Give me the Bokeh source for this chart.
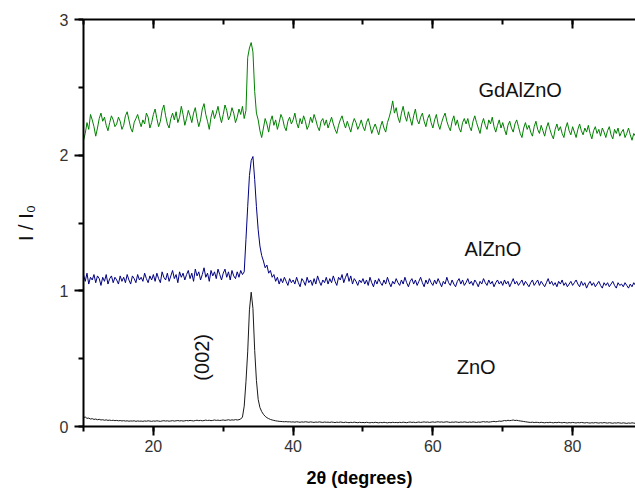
from bokeh.plotting import figure
from bokeh.models import LinearAxis, SingleIntervalTicker, Label, Range1d
from bokeh.embed import file_html
from bokeh.resources import INLINE

# 2-theta sampling: start 10 deg, step 0.25 deg
theta_start = 10.0
theta_step = 0.25

gdalzno = [
    2.11, 2.16, 2.24, 2.19, 2.30, 2.26, 2.21, 2.14, 2.20, 2.27, 2.31, 2.25, 2.28, 2.22, 2.18, 2.24, 2.29, 2.26, 2.21, 2.23,
    2.28, 2.25, 2.19, 2.22, 2.29, 2.32, 2.26, 2.20, 2.17, 2.24, 2.27, 2.30, 2.25, 2.21, 2.26, 2.23, 2.31, 2.28, 2.20, 2.24,
    2.30, 2.34, 2.27, 2.21, 2.25, 2.33, 2.37, 2.29, 2.23, 2.20, 2.27, 2.31, 2.26, 2.32, 2.24, 2.28, 2.36, 2.30, 2.22, 2.27,
    2.33, 2.29, 2.24, 2.31, 2.35, 2.27, 2.21, 2.26, 2.34, 2.38, 2.30, 2.25, 2.19, 2.28, 2.33, 2.27, 2.31, 2.36, 2.29, 2.24,
    2.30, 2.37, 2.33, 2.26, 2.29, 2.35, 2.31, 2.24, 2.28, 2.34, 2.30, 2.36, 2.27, 2.33, 2.72, 2.79, 2.83, 2.76, 2.47, 2.31,
    2.26, 2.18, 2.13, 2.20, 2.27, 2.23, 2.17, 2.25, 2.29, 2.22, 2.26, 2.19, 2.24, 2.30, 2.27, 2.21, 2.18, 2.25, 2.28, 2.23,
    2.26, 2.31, 2.24, 2.20, 2.27, 2.23, 2.29, 2.25, 2.19, 2.22, 2.28, 2.24, 2.30, 2.26, 2.21, 2.18, 2.25, 2.27, 2.22, 2.26,
    2.20, 2.24, 2.28, 2.23, 2.19, 2.16, 2.22, 2.26, 2.29, 2.24, 2.20, 2.25, 2.21, 2.17, 2.23, 2.27, 2.24, 2.19, 2.22, 2.26,
    2.21, 2.18, 2.24, 2.27, 2.22, 2.16, 2.20, 2.23, 2.19, 2.15, 2.21, 2.25, 2.20, 2.17, 2.24, 2.28, 2.33, 2.40, 2.31, 2.35,
    2.28, 2.24, 2.31, 2.36, 2.29, 2.25, 2.32, 2.27, 2.22, 2.29, 2.34, 2.26, 2.23, 2.28, 2.31, 2.25, 2.21, 2.27, 2.30, 2.24,
    2.20, 2.26, 2.30, 2.23, 2.19, 2.24, 2.28, 2.31, 2.25, 2.21, 2.18, 2.25, 2.29, 2.22, 2.26, 2.20, 2.17, 2.24, 2.27, 2.23,
    2.27, 2.21, 2.18, 2.25, 2.29, 2.24, 2.20, 2.16, 2.23, 2.27, 2.22, 2.19, 2.26, 2.23, 2.28, 2.21, 2.17, 2.22, 2.26, 2.20,
    2.24, 2.19, 2.15, 2.22, 2.25, 2.20, 2.17, 2.23, 2.26, 2.21, 2.16, 2.13, 2.20, 2.24, 2.19, 2.22, 2.17, 2.14, 2.21, 2.25,
    2.19, 2.16, 2.22, 2.18, 2.14, 2.20, 2.24, 2.19, 2.15, 2.12, 2.19, 2.23, 2.18, 2.21, 2.16, 2.13, 2.20, 2.24, 2.18, 2.15,
    2.21, 2.17, 2.13, 2.19, 2.23, 2.18, 2.15, 2.20, 2.17, 2.22, 2.16, 2.12, 2.18, 2.21, 2.16, 2.19, 2.14, 2.20, 2.17, 2.13,
    2.18, 2.21, 2.15, 2.12, 2.19, 2.16, 2.20, 2.14, 2.17, 2.19, 2.13, 2.16, 2.20, 2.15, 2.11, 2.16, 2.14,
]

alzno = [
    1.12, 1.07, 1.13, 1.05, 1.10, 1.08, 1.12, 1.06, 1.11, 1.09, 1.04, 1.10, 1.07, 1.12, 1.05, 1.09, 1.11, 1.06, 1.10, 1.08,
    1.05, 1.11, 1.07, 1.10, 1.06, 1.12, 1.08, 1.05, 1.11, 1.09, 1.06, 1.12, 1.08, 1.10, 1.07, 1.13, 1.09, 1.06, 1.11, 1.08,
    1.12, 1.07, 1.13, 1.09, 1.06, 1.14, 1.10, 1.08, 1.13, 1.07, 1.11, 1.15, 1.09, 1.12, 1.06, 1.14, 1.10, 1.13, 1.08, 1.12,
    1.15, 1.09, 1.13, 1.07, 1.16, 1.11, 1.14, 1.08, 1.12, 1.17, 1.10, 1.13, 1.07, 1.15, 1.11, 1.14, 1.09, 1.16, 1.12, 1.08,
    1.13, 1.16, 1.10, 1.14, 1.08, 1.15, 1.11, 1.09, 1.14, 1.10, 1.15, 1.12, 1.14, 1.38, 1.62, 1.85, 1.96, 1.99, 1.82, 1.62,
    1.45, 1.33, 1.26, 1.22, 1.17, 1.19, 1.13, 1.15, 1.10, 1.12, 1.07, 1.10, 1.05, 1.09, 1.06, 1.10, 1.07, 1.04, 1.09, 1.06,
    1.08, 1.05, 1.10, 1.06, 1.03, 1.09, 1.07, 1.04, 1.10, 1.06, 1.08, 1.04, 1.09, 1.05, 1.11, 1.07, 1.04, 1.08, 1.06, 1.10,
    1.05, 1.09, 1.06, 1.11, 1.07, 1.04, 1.10, 1.08, 1.12, 1.06, 1.10, 1.13, 1.07, 1.11, 1.05, 1.09, 1.07, 1.04, 1.08, 1.06,
    1.09, 1.05, 1.08, 1.04, 1.10, 1.06, 1.03, 1.08, 1.05, 1.09, 1.06, 1.04, 1.08, 1.05, 1.10, 1.06, 1.03, 1.07, 1.05, 1.09,
    1.06, 1.04, 1.08, 1.05, 1.10, 1.06, 1.03, 1.07, 1.09, 1.05, 1.08, 1.04, 1.07, 1.10, 1.06, 1.03, 1.08, 1.05, 1.09, 1.06,
    1.04, 1.08, 1.05, 1.09, 1.06, 1.03, 1.07, 1.05, 1.10, 1.06, 1.04, 1.08, 1.05, 1.03, 1.07, 1.09, 1.05, 1.08, 1.04, 1.06,
    1.09, 1.05, 1.07, 1.04, 1.08, 1.06, 1.03, 1.07, 1.05, 1.09, 1.06, 1.04, 1.08, 1.05, 1.07, 1.03, 1.06, 1.08, 1.05, 1.07,
    1.04, 1.08, 1.05, 1.07, 1.03, 1.06, 1.09, 1.05, 1.07, 1.04, 1.06, 1.08, 1.04, 1.07, 1.05, 1.03, 1.06, 1.08, 1.04, 1.06,
    1.08, 1.04, 1.07, 1.05, 1.03, 1.06, 1.09, 1.05, 1.07, 1.04, 1.06, 1.03, 1.07, 1.05, 1.08, 1.04, 1.06, 1.03, 1.05, 1.07,
    1.04, 1.06, 1.08, 1.05, 1.03, 1.07, 1.04, 1.06, 1.02, 1.05, 1.07, 1.04, 1.06, 1.03, 1.05, 1.07, 1.04, 1.02, 1.06, 1.04,
    1.06, 1.03, 1.05, 1.07, 1.04, 1.02, 1.06, 1.04, 1.05, 1.03, 1.06, 1.04, 1.02, 1.05, 1.03, 1.06, 1.04,
]

zno = [
    0.065, 0.070, 0.060, 0.062, 0.055, 0.058, 0.052, 0.055, 0.050, 0.053, 0.048, 0.050, 0.046, 0.049, 0.045, 0.047, 0.044, 0.046, 0.043, 0.045,
    0.042, 0.044, 0.041, 0.043, 0.040, 0.042, 0.039, 0.041, 0.040, 0.042, 0.038, 0.041, 0.039, 0.040, 0.038, 0.041, 0.039, 0.042, 0.040, 0.038,
    0.041, 0.039, 0.042, 0.040, 0.038, 0.041, 0.043, 0.040, 0.042, 0.039, 0.041, 0.043, 0.040, 0.042, 0.044, 0.041, 0.043, 0.040, 0.042, 0.044,
    0.042, 0.045, 0.043, 0.041, 0.044, 0.046, 0.043, 0.045, 0.042, 0.044, 0.047, 0.044, 0.046, 0.043, 0.045, 0.048, 0.045, 0.047, 0.044, 0.046,
    0.048, 0.045, 0.047, 0.050, 0.046, 0.049, 0.047, 0.051, 0.048, 0.050, 0.055, 0.070, 0.150, 0.330, 0.550, 0.860, 0.990, 0.870, 0.560, 0.340,
    0.200, 0.140, 0.110, 0.090, 0.075, 0.065, 0.058, 0.052, 0.048, 0.045, 0.042, 0.040, 0.038, 0.037, 0.036, 0.035, 0.036, 0.034, 0.035, 0.033,
    0.034, 0.032, 0.035, 0.033, 0.031, 0.034, 0.032, 0.035, 0.033, 0.031, 0.034, 0.032, 0.030, 0.033, 0.031, 0.034, 0.032, 0.030, 0.033, 0.031,
    0.032, 0.030, 0.033, 0.031, 0.029, 0.032, 0.030, 0.033, 0.031, 0.029, 0.032, 0.030, 0.028, 0.031, 0.029, 0.032, 0.030, 0.028, 0.031, 0.029,
    0.030, 0.028, 0.031, 0.029, 0.027, 0.030, 0.028, 0.031, 0.029, 0.027, 0.030, 0.028, 0.031, 0.029, 0.027, 0.030, 0.028, 0.031, 0.029, 0.030,
    0.028, 0.031, 0.029, 0.032, 0.030, 0.028, 0.031, 0.033, 0.030, 0.032, 0.029, 0.031, 0.033, 0.030, 0.032, 0.034, 0.031, 0.033, 0.030, 0.032,
    0.034, 0.031, 0.033, 0.035, 0.032, 0.034, 0.031, 0.033, 0.035, 0.032, 0.030, 0.033, 0.031, 0.034, 0.032, 0.030, 0.033, 0.031, 0.034, 0.032,
    0.030, 0.033, 0.031, 0.034, 0.032, 0.030, 0.033, 0.031, 0.034, 0.036, 0.033, 0.035, 0.032, 0.034, 0.036, 0.038, 0.035, 0.037, 0.040, 0.038,
    0.041, 0.044, 0.042, 0.046, 0.043, 0.045, 0.048, 0.044, 0.046, 0.043, 0.041, 0.039, 0.037, 0.035, 0.033, 0.031, 0.030, 0.032, 0.029, 0.031,
    0.030, 0.028, 0.031, 0.029, 0.027, 0.030, 0.028, 0.031, 0.029, 0.027, 0.030, 0.028, 0.031, 0.029, 0.027, 0.030, 0.028, 0.026, 0.029, 0.027,
    0.030, 0.028, 0.026, 0.029, 0.027, 0.030, 0.028, 0.026, 0.029, 0.027, 0.025, 0.028, 0.026, 0.029, 0.027, 0.025, 0.028, 0.026, 0.029, 0.027,
    0.025, 0.028, 0.026, 0.024, 0.027, 0.025, 0.028, 0.026, 0.024, 0.027, 0.025, 0.023, 0.026, 0.024, 0.027, 0.025, 0.023,
]

series_names = ["GdAlZnO", "AlZnO", "ZnO"]
peak_label = "(002)"
x_title = "2θ (degrees)"
y_title = "I / I\u2080"
x_ticks_interval = 20
y_ticks_interval = 1


def grid(vals):
    return [theta_start + theta_step * i for i in range(len(vals))]


FONT = "Liberation Sans"

p = figure(width=635, height=490, x_range=Range1d(10, 89), y_range=Range1d(0, 3),
           output_backend="svg", toolbar_location=None,
           min_border_left=83, min_border_right=0, min_border_top=19, min_border_bottom=63)
p.xgrid.visible = False
p.ygrid.visible = False
p.outline_line_color = None
p.background_fill_color = "white"
p.border_fill_color = "white"

p.line(grid(zno), zno, line_color="#1a1a1a", line_width=1)
p.line(grid(alzno), alzno, line_color="#000080", line_width=1)
p.line(grid(gdalzno), gdalzno, line_color="#008000", line_width=1)

xb = p.below[0]
xb.ticker = SingleIntervalTicker(interval=x_ticks_interval, num_minor_ticks=2)
yl = p.left[0]
yl.ticker = SingleIntervalTicker(interval=y_ticks_interval, num_minor_ticks=2)

for ax in (xb, yl):
    ax.axis_line_width = 2
    ax.major_tick_line_width = 2
    ax.minor_tick_line_width = 2
    ax.major_tick_out = 9
    ax.major_tick_in = 0
    ax.minor_tick_out = 5
    ax.minor_tick_in = 0
    ax.major_label_text_font = FONT
    ax.major_label_text_font_size = "16px"
    ax.major_label_text_color = "#333333"

xb.major_label_standoff = 4
yl.major_label_standoff = 6
xb.axis_label = x_title
xb.axis_label_text_font = FONT
xb.axis_label_text_font_style = "bold"
xb.axis_label_text_font_size = "18px"
xb.axis_label_text_color = "#000000"
xb.axis_label_standoff = 13

yl.axis_label = y_title
yl.axis_label_text_font = FONT
yl.axis_label_text_font_style = "normal"
yl.axis_label_text_font_size = "20px"
yl.axis_label_text_color = "#111111"
yl.axis_label_standoff = 20

top = LinearAxis(ticker=SingleIntervalTicker(interval=x_ticks_interval, num_minor_ticks=2),
                 axis_line_width=2, major_tick_line_width=2, minor_tick_line_width=2,
                 major_tick_in=9, major_tick_out=0, minor_tick_in=5, minor_tick_out=0,
                 major_label_text_font_size="1px", major_label_text_color=None,
                 major_label_standoff=0)
p.add_layout(top, "above")

label_style = dict(text_font=FONT, text_font_size="20px", text_color="#111111",
                   text_align="center", text_baseline="middle")
p.add_layout(Label(x=72.5, y=2.48, text=series_names[0], **label_style))
p.add_layout(Label(x=68.6, y=1.31, text=series_names[1], **label_style))
p.add_layout(Label(x=66.2, y=0.44, text=series_names[2], **label_style))
p.add_layout(Label(x=26.9, y=0.51, text=peak_label, angle=1.5708, **label_style))

open("out.html", "w").write(file_html(p, INLINE))
